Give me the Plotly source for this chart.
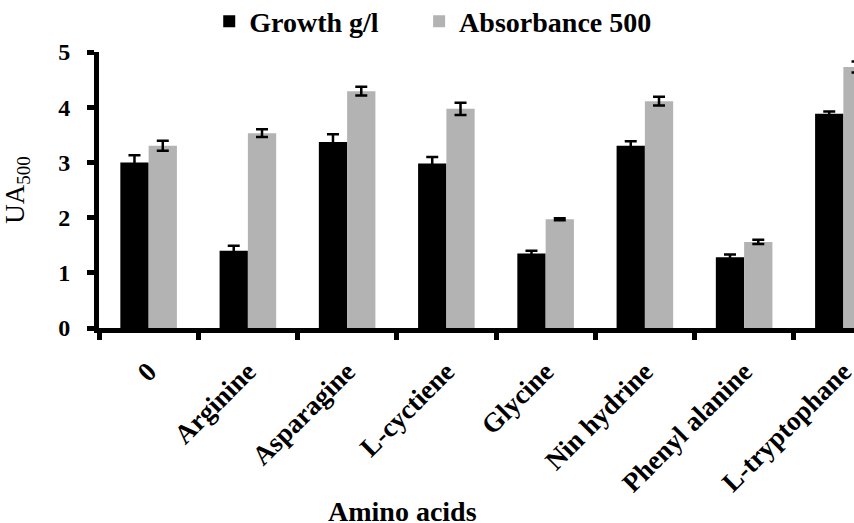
import plotly.graph_objects as go

categories = ["0", "Arginine", "Asparagine", "L-cyctiene", "Glycine",
              "Nin hydrine", "Phenyl alanine", "L-tryptophane"]
growth = [3.00, 1.40, 3.37, 2.98, 1.35, 3.30, 1.28, 3.88]
growth_err = [0.13, 0.09, 0.14, 0.12, 0.05, 0.085, 0.05, 0.04]
absorb = [3.30, 3.53, 4.29, 3.97, 1.97, 4.11, 1.56, 4.73]
absorb_err = [0.09, 0.07, 0.08, 0.11, 0.02, 0.08, 0.04, 0.10]
y_ticks = [0, 1, 2, 3, 4, 5]

FONT = "Liberation Serif, Times New Roman, serif"

fig = go.Figure()
fig.add_trace(go.Bar(
    x=categories, y=growth, name="Growth g/l", legend="legend",
    marker=dict(color="#000000", line=dict(width=0)),
    error_y=dict(type="data", array=growth_err, color="#000000",
                 thickness=2.5, width=6),
))
fig.add_trace(go.Bar(
    x=categories, y=absorb, name="Absorbance 500", legend="legend2",
    marker=dict(color="#b3b3b3", line=dict(width=0)),
    error_y=dict(type="data", array=absorb_err, color="#000000",
                 thickness=2.5, width=6),
))

legend_font = dict(family=FONT, size=28, color="black", weight="bold")

fig.update_layout(
    width=854, height=523,
    margin=dict(l=99, r=0, t=52, b=195, autoexpand=False),
    paper_bgcolor="white", plot_bgcolor="white",
    barmode="group", bargap=0.43, bargroupgap=0,
    font=dict(family=FONT, color="black"),
    showlegend=True,
    legend=dict(
        orientation="h", x=0.146, xanchor="left", y=1.11, yanchor="middle",
        font=legend_font, bgcolor="rgba(0,0,0,0)",
    ),
    legend2=dict(
        orientation="h", x=0.424, xanchor="left", y=1.11, yanchor="middle",
        font=legend_font, bgcolor="rgba(0,0,0,0)",
    ),
    xaxis=dict(
        type="category", range=[-0.5, 7.107],
        showline=True, linecolor="black", linewidth=5,
        ticks="outside", tickson="boundaries", ticklen=7, tickwidth=5,
        tickcolor="black", tickangle=-45, ticklabelstandoff=12,
        tickfont=dict(family=FONT, size=27, color="black", weight="bold"),
        showgrid=False, zeroline=False,
    ),
    yaxis=dict(
        range=[0, 5], tickvals=y_ticks,
        showline=True, linecolor="black", linewidth=5,
        ticks="outside", ticklen=7, tickwidth=5, tickcolor="black",
        ticklabelstandoff=12,
        tickfont=dict(family=FONT, size=24, color="black", weight="bold"),
        showgrid=False, zeroline=False,
        title=dict(text="UA<sub>500</sub>", standoff=27,
                   font=dict(family=FONT, size=27, color="black")),
    ),
    annotations=[dict(
        text="<b>Amino acids</b>", xref="paper", yref="paper",
        x=0.4026, xanchor="center", y=-0.60, yanchor="top", showarrow=False,
        font=dict(family=FONT, size=28, color="black"),
    )],
)

fig.write_html("out.html")
